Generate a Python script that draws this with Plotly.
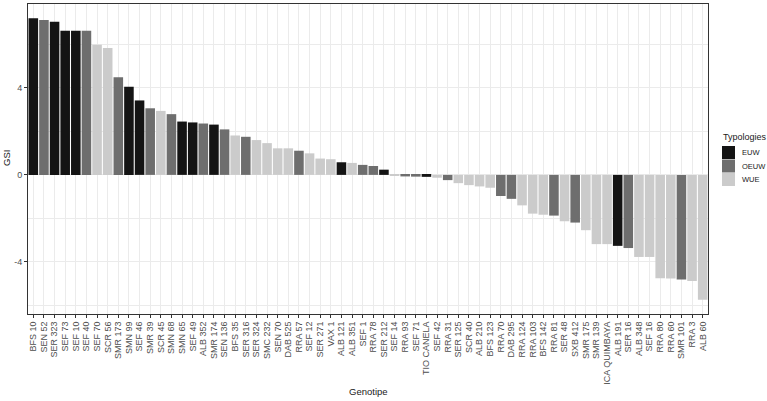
import plotly.graph_objects as go

categories = ["BFS 10","SEN 52","SER 323","SEF 73","SEF 10","SEF 40","SEF 70","SCR 56","SMR 173","SMN 99",
              "SEF 46","SMR 39","SCR 45","SMN 68","SMN 65","SEF 49","ALB 352","SMR 174","SEN 136","BFS 35",
              "SER 316","SER 324","SMC 232","SEN 70","DAB 525","RRA 57","SEF 12","SER 271","VAX 1","ALB 121",
              "ALB 351","SEF 1","RRA 78","SER 212","SEF 14","RRA 93","SEF 71","TIO CANELA","SEF 42","RRA 31",
              "SER 125","SCR 40","ALB 210","BFS 123","RRA 70","DAB 295","RRA 124","RRA 103","BFS 142","RRA 81",
              "SER 48","SXB 412","SMR 175","SMR 139","ICA QUIMBAYA","ALB 191","SER 16","ALB 348","SEF 16","RRA 80",
              "RRA 60","SMR 101","RRA 3","ALB 60"]
gsi = [7.2,7.12,7.03,6.62,6.62,6.62,5.98,5.83,4.49,4.05,
       3.42,3.06,2.94,2.79,2.45,2.41,2.36,2.31,2.09,1.81,
       1.75,1.60,1.46,1.22,1.22,1.11,0.99,0.75,0.72,0.58,
       0.55,0.46,0.41,0.24,-0.02,-0.07,-0.08,-0.09,-0.13,-0.24,
       -0.38,-0.47,-0.53,-0.59,-0.97,-1.10,-1.40,-1.78,-1.83,-1.87,
       -2.13,-2.19,-2.54,-3.18,-3.18,-3.26,-3.36,-3.77,-3.77,-4.75,
       -4.76,-4.81,-4.87,-5.74]
typology = ["EUW","OEUW","EUW","EUW","EUW","OEUW","WUE","WUE","OEUW","EUW",
            "EUW","OEUW","WUE","OEUW","EUW","EUW","OEUW","EUW","OEUW","WUE",
            "OEUW","WUE","WUE","WUE","WUE","OEUW","WUE","WUE","WUE","EUW",
            "WUE","OEUW","OEUW","EUW","WUE","OEUW","OEUW","EUW","WUE","OEUW",
            "WUE","WUE","WUE","WUE","OEUW","OEUW","WUE","WUE","WUE","OEUW",
            "WUE","OEUW","WUE","WUE","WUE","EUW","OEUW","WUE","WUE","WUE",
            "WUE","OEUW","WUE","WUE"]
groups = ["EUW","OEUW","WUE"]
y_ticks = [-4, 0, 4]
y_tick_labels = ["-4", "0", "4"]

colors = {"EUW": "#141414", "OEUW": "#6e6e6e", "WUE": "#cbcbcb"}

W, H = 767, 401
ML, MR, MT, MB = 28, 59, 4, 87
PW, PH = W - ML - MR, H - MT - MB


def px(xp):
    return (xp - ML) / PW


def py(yp):
    return (H - MB - yp) / PH


fig = go.Figure()
for g in groups:
    xs = [c for c, t in zip(categories, typology) if t == g]
    ys = [v for v, t in zip(gsi, typology) if t == g]
    fig.add_trace(go.Bar(x=xs, y=ys, name=g, showlegend=False,
                         marker=dict(color=colors[g], line=dict(width=0))))

font = "Liberation Sans, Arial, sans-serif"
annotations = [
    dict(text="Genotipe", x=0.5, y=py(391), xref="paper", yref="paper", xanchor="center", yanchor="middle",
         showarrow=False, font=dict(size=9.5, color="#1a1a1a")),
    dict(text="GSI", x=px(6), y=py(158), xref="paper", yref="paper", xanchor="center", yanchor="middle",
         textangle=-90, showarrow=False, font=dict(size=9.5, color="#1a1a1a")),
    dict(text="Typologies", x=px(721), y=py(137), xref="paper", yref="paper", xanchor="left", yanchor="middle",
         showarrow=False, font=dict(size=9, color="#1a1a1a")),
]
shapes = []
key_tops = [146, 159.5, 173]
label_centers = [152.5, 166, 179.5]
for g, top, lc in zip(groups, key_tops, label_centers):
    shapes.append(dict(type="rect", xref="paper", yref="paper", x0=px(722), x1=px(735), y0=py(top), y1=py(top + 13),
                       fillcolor=colors[g], line=dict(width=0)))
    annotations.append(dict(text=g, x=px(739.5), y=py(lc), xref="paper", yref="paper", xanchor="left",
                            yanchor="middle", showarrow=False, font=dict(size=7.5, color="#1a1a1a")))

fig.update_layout(
    width=W, height=H,
    margin=dict(l=ML, r=MR, t=MT, b=MB, autoexpand=False),
    paper_bgcolor="white", plot_bgcolor="white",
    barmode="overlay", bargap=0.1,
    font=dict(family=font, size=9, color="#4d4d4d"),
    showlegend=False,
    annotations=annotations,
    shapes=shapes,
)
fig.update_xaxes(
    type="category", categoryorder="array", categoryarray=categories,
    tickmode="array", tickvals=categories, ticktext=categories,
    tickangle=-90, ticks="outside", ticklen=3, tickcolor="#333333",
    tickfont=dict(size=9, color="#4d4d4d"), automargin=False,
    showgrid=True, gridcolor="#ebebeb", gridwidth=1,
    showline=True, mirror=True, linecolor="#333333", linewidth=1,
)
fig.update_yaxes(
    range=[-6.39, 7.85], tickvals=y_ticks, ticktext=y_tick_labels,
    ticks="outside", ticklen=3, tickcolor="#333333",
    tickfont=dict(size=9, color="#4d4d4d"), automargin=False,
    showgrid=True, gridcolor="#ebebeb", gridwidth=1, zeroline=False,
    minor=dict(tickvals=[-6, -2, 2, 6], showgrid=True, gridcolor="#ebebeb", gridwidth=1, ticks=""),
    showline=True, mirror=True, linecolor="#333333", linewidth=1,
)
fig.write_html("out.html", config={"displayModeBar": False},
               post_script="document.body.style.margin='0px';")
